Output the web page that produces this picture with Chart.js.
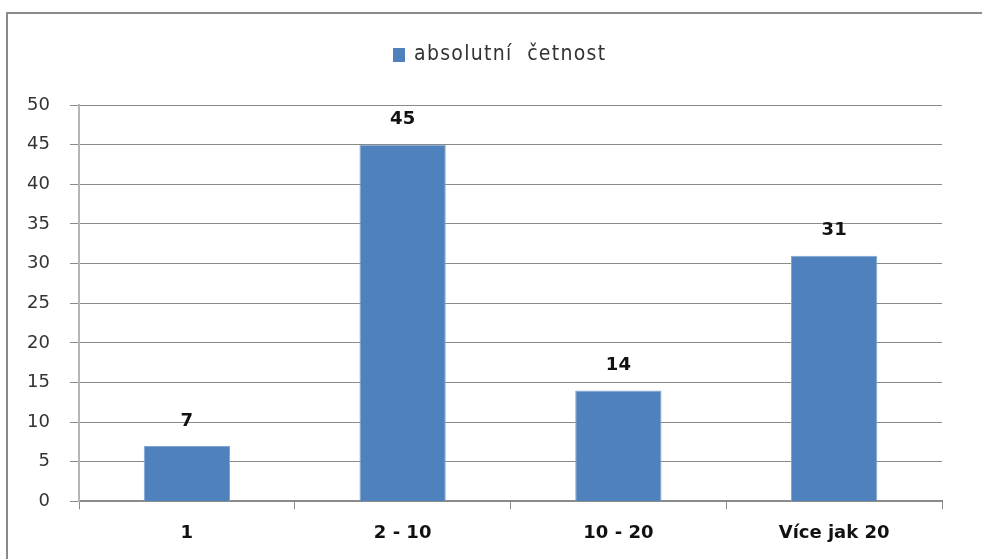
<!DOCTYPE html>
<html>
<head>
<meta charset="utf-8">
<script src="https://cdn.jsdelivr.net/npm/chart.js@4/dist/chart.umd.min.js"></script>
<style>
  html, body { margin: 0; padding: 0; background: #fff; }
  #wrap { position: relative; width: 982px; height: 559px; overflow: hidden; }
  #frame { position: absolute; left: 6px; top: 12px; width: 1000px; height: 560px;
           border: 2px solid #8a8a8a; box-sizing: border-box; }
  canvas { position: absolute; left: 0; top: 0; }
</style>
</head>
<body>
<div id="wrap">
  <div id="frame"></div>
  <canvas id="chartCanvas" width="982" height="559"></canvas>
</div>
<script>
const categories = ["1", "2 - 10", "10 - 20", "Více jak 20"];
const counts = [7, 45, 14, 31];
const seriesName = "absolutní  četnost";

/* =========================
   Value labels above bars
========================= */
const valueLabels = {
  id: "valueLabels",
  afterDatasetsDraw: (chart) => {
    const ctx = chart.ctx;
    const meta = chart.getDatasetMeta(0);
    ctx.save();
    ctx.font = "bold 18px 'DejaVu Sans'";
    ctx.fillStyle = "#111";
    ctx.textAlign = "center";
    ctx.textBaseline = "middle";
    meta.data.forEach((bar, i) => {
      ctx.fillText(String(counts[i]), bar.x, bar.y - 25);
    });
    ctx.restore();
  }
};

/* =========================
   Legend (drawn by hand so it can sit high above the plot)
========================= */
const topLegend = {
  id: "topLegend",
  afterDraw: (chart) => {
    const ctx = chart.ctx;
    const color = chart.data.datasets[0].backgroundColor;
    ctx.save();
    ctx.font = "21px 'DejaVu Sans Condensed', 'DejaVu Sans'";
    ctx.letterSpacing = "1.3px";
    const textW = ctx.measureText(seriesName).width;
    const total = 12 + 9 + textW;
    const x0 = Math.round(chart.width / 2 - total / 2) + 9;
    const yc = 55;
    ctx.fillStyle = color;
    ctx.fillRect(x0, yc - 7, 12, 14);
    ctx.fillStyle = "#333";
    ctx.textBaseline = "middle";
    ctx.textAlign = "left";
    ctx.fillText(seriesName, x0 + 21, yc);
    ctx.restore();
  }
};

const ctx = document.getElementById("chartCanvas").getContext("2d");
new Chart(ctx, {
  type: "bar",
  data: {
    labels: categories,
    datasets: [{
      label: seriesName,
      data: counts,
      backgroundColor: "#4f81bd",
      borderColor: "#7fa6d4",
      borderWidth: 1,
      barPercentage: 0.4,
      categoryPercentage: 1
    }]
  },
  options: {
    responsive: false,
    animation: false,
    layout: { padding: { left: 12, right: 40, top: 105, bottom: 2 } },
    plugins: {
      legend: { display: false },
      tooltip: { enabled: false }
    },
    scales: {
      x: {
        grid: {
          display: true,
          offset: true,
          drawOnChartArea: false,
          color: "#8a8a8a",
          tickLength: 8,
          lineWidth: 1
        },
        border: { color: "#8a8a8a", width: 2 },
        ticks: {
          color: "#111",
          font: { family: "'DejaVu Sans'", size: 18, weight: "bold" },
          padding: 13
        }
      },
      y: {
        min: 0,
        max: 50,
        afterFit: (scale) => { scale.width = 67; },
        grid: { color: "#8a8a8a", tickLength: 9, lineWidth: 1 },
        border: { color: "#b5b5b5", width: 2 },
        ticks: {
          stepSize: 5,
          color: "#333",
          font: { family: "'DejaVu Sans'", size: 18 },
          padding: 20
        }
      }
    }
  },
  plugins: [valueLabels, topLegend]
});
</script>
</body>
</html>
